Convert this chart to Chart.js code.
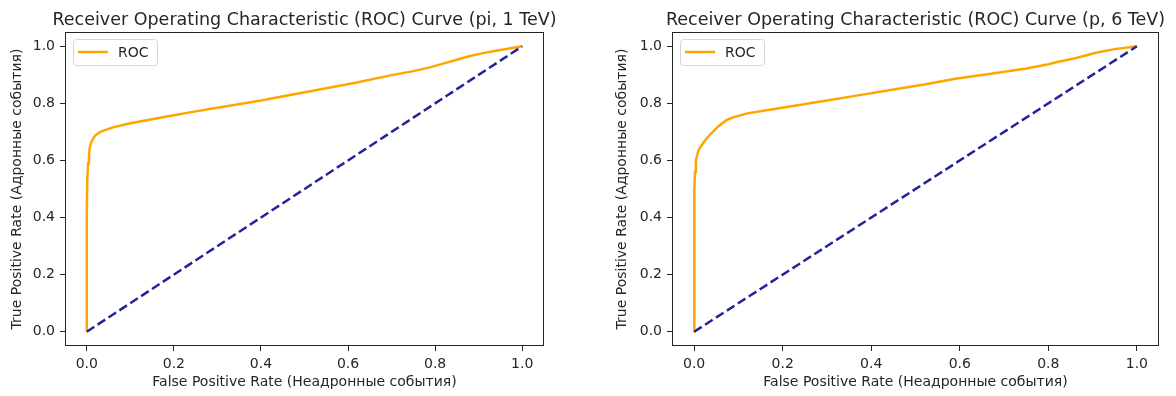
<!DOCTYPE html>
<html lang="en">
<head>
  <meta charset="UTF-8">
  <title>ROC Curves</title>
  <script src="https://cdn.jsdelivr.net/npm/chart.js"></script>
  <style>
    html, body { margin: 0; padding: 0; background: #fff; }
    .wrap { position: absolute; top: 0; width: 588px; height: 396px; }
  </style>
</head>
<body>
  <div class="wrap" style="left:0"><canvas id="rocLeft"></canvas></div>
  <div class="wrap" style="left:588px"><canvas id="rocRight"></canvas></div>

  <script>
    // --- data ---
    const tickValues = [0, 0.2, 0.4, 0.6, 0.8, 1.0];

    const piFpr = [0, 0, 0.001, 0.003, 0.005, 0.007, 0.01, 0.015, 0.02, 0.03, 0.045, 0.06, 0.1, 0.14, 0.2, 0.25, 0.3, 0.4, 0.47, 0.55, 0.62, 0.7, 0.75, 0.79, 0.82, 0.85, 0.88, 0.91, 0.94, 0.97, 1.0];
    const piTpr = [0, 0.4, 0.53, 0.59, 0.62, 0.645, 0.662, 0.678, 0.688, 0.699, 0.708, 0.716, 0.73, 0.742, 0.758, 0.772, 0.785, 0.81, 0.83, 0.853, 0.873, 0.899, 0.913, 0.927, 0.94, 0.953, 0.966, 0.976, 0.984, 0.992, 1.0];

    const pFpr = [0, 0, 0.001, 0.002, 0.004, 0.007, 0.01, 0.015, 0.02, 0.028, 0.04, 0.055, 0.073, 0.09, 0.12, 0.17, 0.22, 0.3, 0.37, 0.44, 0.52, 0.59, 0.67, 0.75, 0.8, 0.82, 0.86, 0.91, 0.95, 1.0];
    const pTpr = [0, 0.35, 0.5, 0.56, 0.6, 0.62, 0.636, 0.648, 0.66, 0.677, 0.697, 0.72, 0.741, 0.752, 0.765, 0.778, 0.79, 0.81, 0.828, 0.846, 0.866, 0.886, 0.904, 0.922, 0.937, 0.945, 0.958, 0.978, 0.99, 1.0];

    const diagX = [0, 1];
    const diagY = [0, 1];

    const FONT = 'DejaVu Sans';
    const INK = '#262626';

    // title over the plot, box around it and legend in the top-left corner
    const frameAndLegend = {
      id: 'frameAndLegend',
      afterDraw(chart, args, opts) {
        const { ctx, chartArea: a } = chart;
        ctx.save();
        ctx.fillStyle = INK;
        ctx.font = '17.5px "' + FONT + '"';
        ctx.textAlign = 'center';
        ctx.textBaseline = 'alphabetic';
        ctx.fillText(opts.title, (a.left + a.right) / 2, a.top - 7);

        ctx.strokeStyle = INK;
        ctx.lineWidth = 1;
        ctx.strokeRect(Math.round(a.left) + 0.5, Math.round(a.top) + 0.5,
          Math.round(a.right - a.left) - 1, Math.round(a.bottom - a.top) - 1);

        const ds = chart.data.datasets.find(d => d.label === 'ROC');
        const x = a.left + 8, y = a.top + 7, w = 84, h = 26;
        ctx.beginPath();
        ctx.roundRect(x + 0.5, y + 0.5, w, h, 3);
        ctx.fillStyle = 'rgba(255,255,255,0.8)';
        ctx.fill();
        ctx.strokeStyle = '#d6d6d6';
        ctx.stroke();
        ctx.beginPath();
        ctx.moveTo(x + 5, y + h / 2);
        ctx.lineTo(x + 35, y + h / 2);
        ctx.strokeStyle = ds.borderColor;
        ctx.lineWidth = ds.borderWidth;
        ctx.stroke();
        ctx.fillStyle = INK;
        ctx.font = '14px "' + FONT + '"';
        ctx.textAlign = 'left';
        ctx.textBaseline = 'middle';
        ctx.fillText(ds.label, x + 45, y + h / 2 + 1);
        ctx.restore();
      }
    };

    function axis(title, size, isX) {
      return {
        type: 'linear',
        min: -0.05,
        max: 1.05,
        afterBuildTicks: s => { s.ticks = tickValues.map(v => ({ value: v })); },
        afterFit: s => { if (isX) s.height = size; else s.width = size; },
        grid: { drawOnChartArea: false, drawTicks: true, tickLength: 5, color: INK },
        border: { display: false },
        ticks: {
          color: INK, padding: 5, maxRotation: 0,
          font: { family: FONT, size: 14 },
          callback: v => v.toFixed(1)
        },
        title: {
          display: true, text: title, color: INK,
          padding: { top: 0, bottom: 0 },
          font: { family: FONT, size: 14 }
        }
      };
    }

    function rocChart(id, fpr, tpr, title, pad, yWidth) {
      new Chart(document.getElementById(id), {
        type: 'scatter',
        data: {
          datasets: [
            {
              label: 'chance',
              data: diagX.map((v, i) => ({ x: v, y: diagY[i] })),
              showLine: true, borderColor: '#23239a', borderWidth: 2.5,
              borderDash: [9, 4], pointRadius: 0
            },
            {
              label: 'ROC',
              data: fpr.map((v, i) => ({ x: v, y: tpr[i] })),
              showLine: true, borderColor: '#ffa500', borderWidth: 2.5,
              pointRadius: 0
            }
          ]
        },
        options: {
          responsive: true,
          maintainAspectRatio: false,
          animation: false,
          layout: { padding: pad },
          plugins: {
            legend: { display: false },
            tooltip: { enabled: false },
            title: { display: false },
            frameAndLegend: { title: title }
          },
          scales: {
            x: axis('False Positive Rate (Неадронные события)', 45, true),
            y: axis('True Positive Rate (Адронные события)', yWidth, false)
          }
        },
        plugins: [frameAndLegend]
      });
    }

    rocChart('rocLeft', piFpr, piTpr, 'Receiver Operating Characteristic (ROC) Curve (pi, 1 TeV)',
      { left: 9, right: 44, top: 32, bottom: 5 }, 56);
    rocChart('rocRight', pFpr, pTpr, 'Receiver Operating Characteristic (ROC) Curve (p, 6 TeV)',
      { left: 26, right: 17, top: 32, bottom: 5 }, 58);
  </script>
</body>
</html>
